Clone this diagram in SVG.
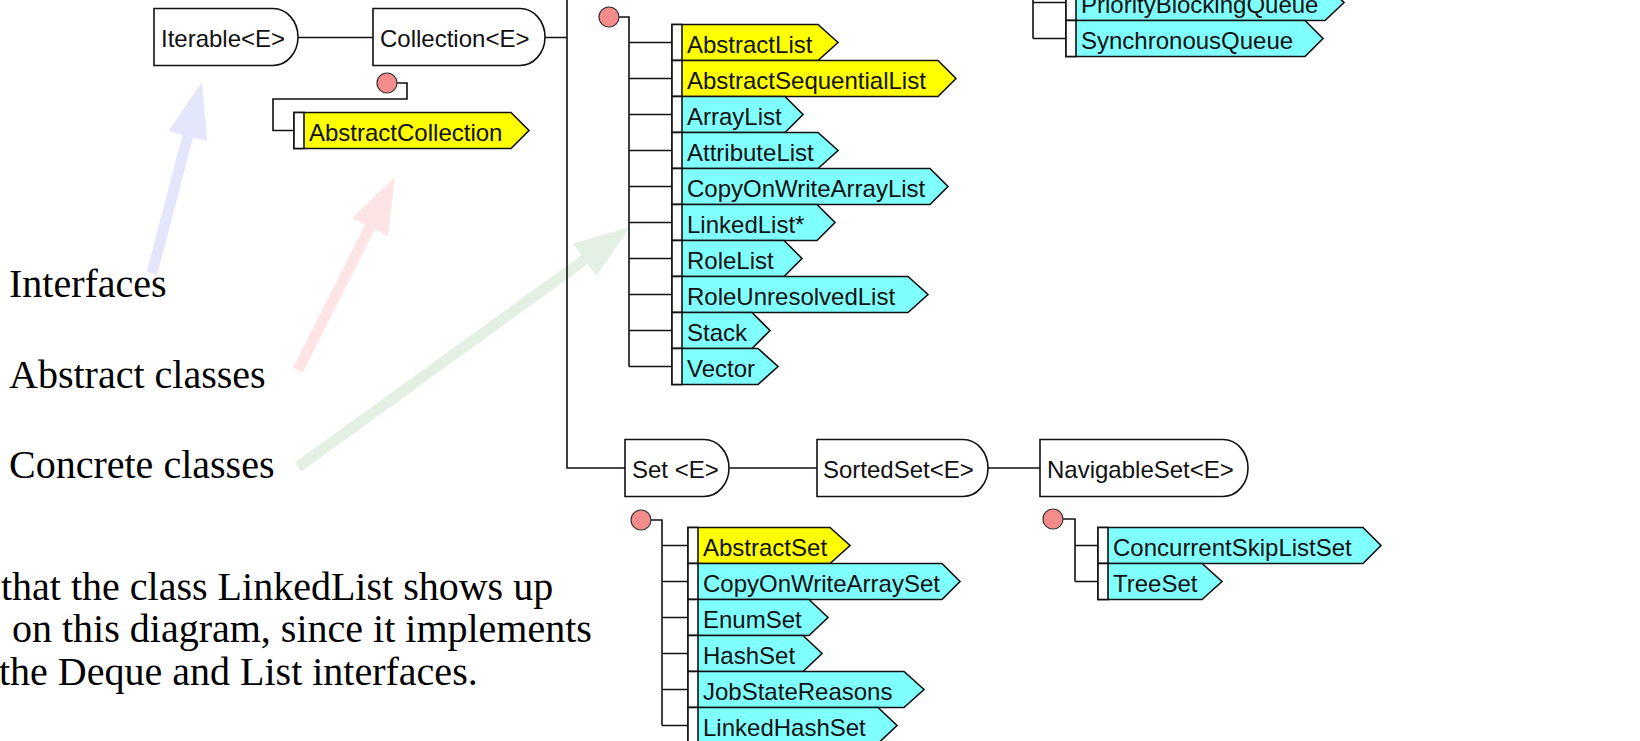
<svg xmlns="http://www.w3.org/2000/svg" width="1640" height="741" viewBox="0 0 1640 741">
<style>
.ln{stroke:#111;stroke-width:1.6;fill:none}
.ifc{fill:#fff;stroke:#111;stroke-width:1.6}
.abs{fill:#ffff00;stroke:#111;stroke-width:1.6}
.con{fill:#80ffff;stroke:#111;stroke-width:1.6}
.strip{fill:#fff;stroke:#111;stroke-width:1.6}
.dot{fill:#f48c8c;stroke:#333;stroke-width:1.2}
.t{font-family:"Liberation Sans",Arial,sans-serif;font-size:24px;fill:#111}
.lg{font-family:"Liberation Serif","Times New Roman",serif;font-size:40px;fill:#000}
</style>
<rect width="1640" height="741" fill="#fff"/>
<g id="legend-arrows">
<polygon fill="#e5e5fb" points="146.7,271.6 182.5,134.8 168.5,131.1 202,82 207.2,141.3 193.1,137.6 157.3,274.4"/>
<polygon fill="#fde5e5" points="293.1,367.5 365.0,224.5 352.0,218.0 395,177 387.8,236.0 374.8,229.5 302.9,372.5"/>
<polygon fill="#e5f0e5" points="294.8,462.5 581.4,255.3 572.9,243.6 630,227 596.3,276.0 587.8,264.3 301.2,471.5"/>
</g>
<g id="legend-text">
<text class="lg" x="9" y="297">Interfaces</text>
<text class="lg" x="9" y="388">Abstract classes</text>
<text class="lg" x="9" y="478">Concrete classes</text>
<text class="lg" x="1" y="600">that the class LinkedList shows up</text>
<text class="lg" x="12" y="642">on this diagram, since it implements</text>
<text class="lg" x="-1" y="685">the Deque and List interfaces.</text>
</g>
<g id="connectors">
<path class="ln" d="M298,37.5 H373"/>
<path class="ln" d="M545,37.5 H567 M567,-5 V468 H625"/>
<path class="ln" d="M729,468 H817 M988,468 H1040"/>
<path class="ln" d="M397,83 H407 V99 H273 V130.5 H294"/>
<path class="ln" d="M619,17 H629 V366.5 M629,42.5 H672 M629,78.5 H672 M629,114.5 H672 M629,150.5 H672 M629,186.5 H672 M629,222.5 H672 M629,258.5 H672 M629,294.5 H672 M629,330.5 H672 M629,366.5 H672"/>
<path class="ln" d="M651,520 H662 V725.5 M662,545.5 H688 M662,581.5 H688 M662,617.5 H688 M662,653.5 H688 M662,689.5 H688 M662,725.5 H688"/>
<path class="ln" d="M1063,519 H1075 V581.5 M1075,545.5 H1098 M1075,581.5 H1098"/>
<path class="ln" d="M1033,-20 V38.5 M1033,2.5 H1066 M1033,38.5 H1066"/>
</g>
<g id="dots">
<circle class="dot" cx="387" cy="83" r="10"/>
<circle class="dot" cx="609" cy="17" r="10"/>
<circle class="dot" cx="641" cy="520" r="10"/>
<circle class="dot" cx="1053" cy="519" r="10"/>
</g>
<g id="Iterable"><path class="ifc" d="M154,8.5 H273 A25 28.5 0 0 1 273,65.5 H154 Z"/><text class="t" x="161" y="47">Iterable&lt;E&gt;</text></g>
<g id="Collection"><path class="ifc" d="M373,8.5 H520 A25 28.5 0 0 1 520,65.5 H373 Z"/><text class="t" x="380" y="47">Collection&lt;E&gt;</text></g>
<g id="Set"><path class="ifc" d="M625,439.5 H704 A25 28.5 0 0 1 704,496.5 H625 Z"/><text class="t" x="632" y="478">Set &lt;E&gt;</text></g>
<g id="SortedSet"><path class="ifc" d="M817,439.5 H963 A25 28.5 0 0 1 963,496.5 H817 Z"/><text class="t" x="823" y="478">SortedSet&lt;E&gt;</text></g>
<g id="NavigableSet"><path class="ifc" d="M1040,439.5 H1223 A25 28.5 0 0 1 1223,496.5 H1040 Z"/><text class="t" x="1047" y="478">NavigableSet&lt;E&gt;</text></g>
<g id="AbstractCollection"><polygon class="abs" points="294,112.5 511,112.5 529,130.5 511,148.5 294,148.5"/><rect class="strip" x="294" y="112.5" width="10" height="36"/><text class="t" x="309" y="141">AbstractCollection</text></g>
<g id="AbstractList"><polygon class="abs" points="672,24.5 818,24.5 838,42.5 818,60.5 672,60.5"/><rect class="strip" x="672" y="24.5" width="10" height="36"/><text class="t" x="687" y="53">AbstractList</text></g>
<g id="AbstractSequentialList"><polygon class="abs" points="672,60.5 938,60.5 956,78.5 938,96.5 672,96.5"/><rect class="strip" x="672" y="60.5" width="10" height="36"/><text class="t" x="687" y="89">AbstractSequentialList</text></g>
<g id="ArrayList"><polygon class="con" points="672,96.5 785,96.5 803,114.5 785,132.5 672,132.5"/><rect class="strip" x="672" y="96.5" width="10" height="36"/><text class="t" x="687" y="125">ArrayList</text></g>
<g id="AttributeList"><polygon class="con" points="672,132.5 818,132.5 838,150.5 818,168.5 672,168.5"/><rect class="strip" x="672" y="132.5" width="10" height="36"/><text class="t" x="687" y="161">AttributeList</text></g>
<g id="CopyOnWriteArrayList"><polygon class="con" points="672,168.5 930,168.5 948,186.5 930,204.5 672,204.5"/><rect class="strip" x="672" y="168.5" width="10" height="36"/><text class="t" x="687" y="197">CopyOnWriteArrayList</text></g>
<g id="LinkedList"><polygon class="con" points="672,204.5 817,204.5 835,222.5 817,240.5 672,240.5"/><rect class="strip" x="672" y="204.5" width="10" height="36"/><text class="t" x="687" y="233">LinkedList*</text></g>
<g id="RoleList"><polygon class="con" points="672,240.5 784,240.5 802,258.5 784,276.5 672,276.5"/><rect class="strip" x="672" y="240.5" width="10" height="36"/><text class="t" x="687" y="269">RoleList</text></g>
<g id="RoleUnresolvedList"><polygon class="con" points="672,276.5 908,276.5 928,294.5 908,312.5 672,312.5"/><rect class="strip" x="672" y="276.5" width="10" height="36"/><text class="t" x="687" y="305">RoleUnresolvedList</text></g>
<g id="Stack"><polygon class="con" points="672,312.5 752,312.5 770,330.5 752,348.5 672,348.5"/><rect class="strip" x="672" y="312.5" width="10" height="36"/><text class="t" x="687" y="341">Stack</text></g>
<g id="Vector"><polygon class="con" points="672,348.5 758,348.5 778,366.5 758,384.5 672,384.5"/><rect class="strip" x="672" y="348.5" width="10" height="36"/><text class="t" x="687" y="377">Vector</text></g>
<g id="PriorityBlockingQueue"><polygon class="con" points="1066,-15.5 1325,-15.5 1344,2.5 1325,20.5 1066,20.5"/><rect class="strip" x="1066" y="-15.5" width="10" height="36"/><text class="t" x="1081" y="13">PriorityBlockingQueue</text></g>
<g id="SynchronousQueue"><polygon class="con" points="1066,20.5 1305,20.5 1323,38.5 1305,56.5 1066,56.5"/><rect class="strip" x="1066" y="20.5" width="10" height="36"/><text class="t" x="1081" y="49">SynchronousQueue</text></g>
<g id="AbstractSet"><polygon class="abs" points="688,527.5 830,527.5 850,545.5 830,563.5 688,563.5"/><rect class="strip" x="688" y="527.5" width="10" height="36"/><text class="t" x="703" y="556">AbstractSet</text></g>
<g id="CopyOnWriteArraySet"><polygon class="con" points="688,563.5 942,563.5 960,581.5 942,599.5 688,599.5"/><rect class="strip" x="688" y="563.5" width="10" height="36"/><text class="t" x="703" y="592">CopyOnWriteArraySet</text></g>
<g id="EnumSet"><polygon class="con" points="688,599.5 809,599.5 828,617.5 809,635.5 688,635.5"/><rect class="strip" x="688" y="599.5" width="10" height="36"/><text class="t" x="703" y="628">EnumSet</text></g>
<g id="HashSet"><polygon class="con" points="688,635.5 803,635.5 822,653.5 803,671.5 688,671.5"/><rect class="strip" x="688" y="635.5" width="10" height="36"/><text class="t" x="703" y="664">HashSet</text></g>
<g id="JobStateReasons"><polygon class="con" points="688,671.5 904,671.5 924,689.5 904,707.5 688,707.5"/><rect class="strip" x="688" y="671.5" width="10" height="36"/><text class="t" x="703" y="700">JobStateReasons</text></g>
<g id="LinkedHashSet"><polygon class="con" points="688,707.5 878,707.5 897,725.5 878,743.5 688,743.5"/><rect class="strip" x="688" y="707.5" width="10" height="36"/><text class="t" x="703" y="736">LinkedHashSet</text></g>
<g id="ConcurrentSkipListSet"><polygon class="con" points="1098,527.5 1363,527.5 1381,545.5 1363,563.5 1098,563.5"/><rect class="strip" x="1098" y="527.5" width="10" height="36"/><text class="t" x="1113" y="556">ConcurrentSkipListSet</text></g>
<g id="TreeSet"><polygon class="con" points="1098,563.5 1202,563.5 1222,581.5 1202,599.5 1098,599.5"/><rect class="strip" x="1098" y="563.5" width="10" height="36"/><text class="t" x="1113" y="592">TreeSet</text></g>
</svg>
